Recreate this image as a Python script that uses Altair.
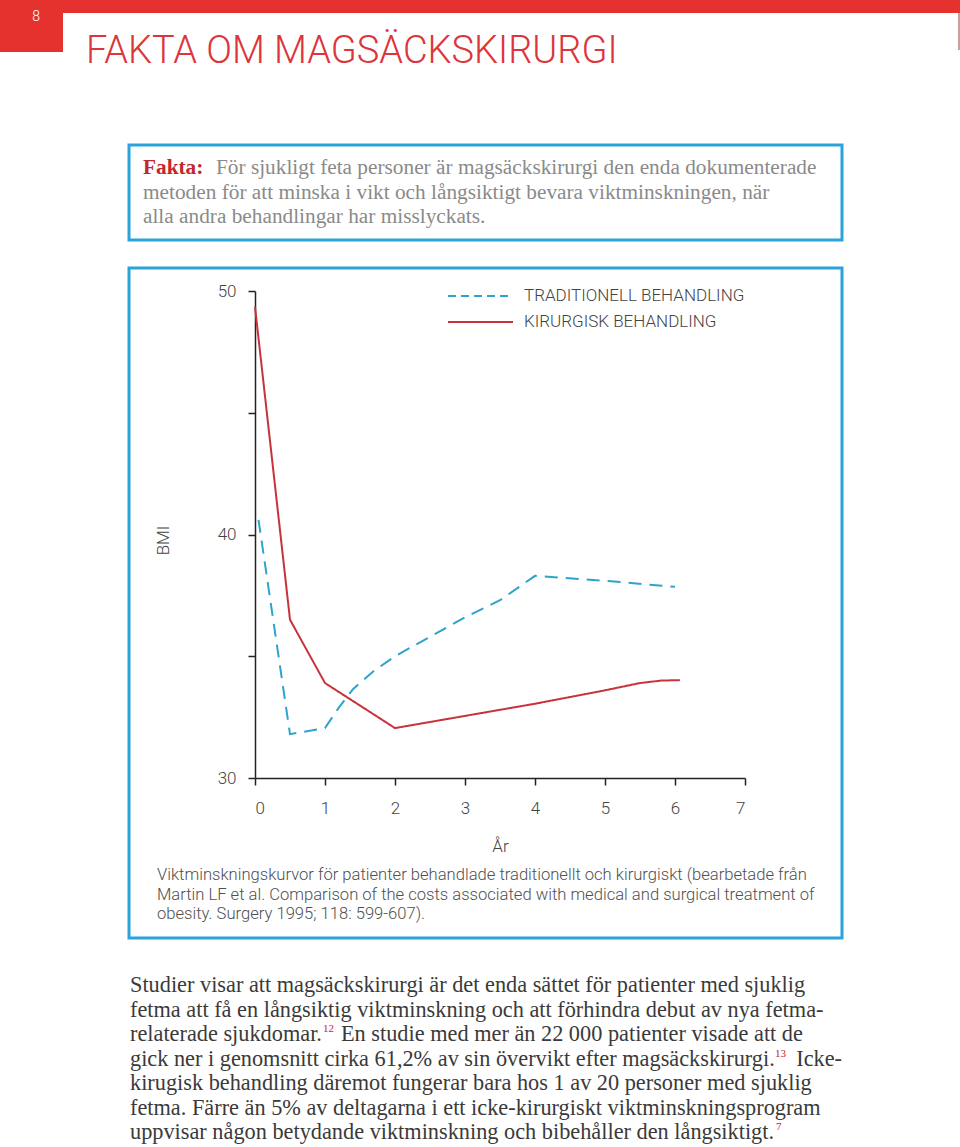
import altair as alt
import pandas as pd

# ---------------- data ----------------
trad_year = [0.05, 0.5, 1.0, 1.2, 1.4, 1.7, 2.0, 2.5, 3.0, 3.5, 4.0, 5.0, 6.0]
trad_bmi = [40.6, 31.8, 32.05, 32.9, 33.65, 34.4, 35.0, 35.8, 36.6, 37.3, 38.3, 38.1, 37.85]
surg_year = [0.0, 0.5, 1.0, 2.0, 3.0, 4.0, 5.0, 5.5, 5.8, 6.07]
surg_bmi = [49.35, 36.5, 33.9, 32.05, 32.55, 33.05, 33.6, 33.9, 34.0, 34.02]
series_names = ["TRADITIONELL BEHANDLING", "KIRURGISK BEHANDLING"]
series_colors = ["#2ea3cc", "#c8323a"]
x_ticks = [0, 1, 2, 3, 4, 5, 6, 7]
y_ticks = [30, 35, 40, 45, 50]

page_number = "8"
page_title = "FAKTA OM MAGSÄCKSKIRURGI"
fact_lead = "Fakta:"
fact_line1 = "För sjukligt feta personer är magsäckskirurgi den enda dokumenterade"
fact_rest = ["metoden för att minska i vikt och långsiktigt bevara viktminskningen, när",
             "alla andra behandlingar har misslyckats."]
caption = ["Viktminskningskurvor för patienter behandlade traditionellt och kirurgiskt (bearbetade från",
           "Martin LF et al. Comparison of the costs associated with medical and surgical treatment of",
           "obesity. Surgery 1995; 118: 599-607)."]
para_top = ["Studier visar att magsäckskirurgi är det enda sättet för patienter med sjuklig",
            "fetma att få en långsiktig viktminskning och att förhindra debut av nya fetma-"]
para_l3a = "relaterade sjukdomar."
para_l3b = "En studie med mer än 22 000 patienter visade att de"
para_l4a = "gick ner i genomsnitt cirka 61,2% av sin övervikt efter magsäckskirurgi."
para_l4b = "Icke-"
para_bottom = ["kirugisk behandling däremot fungerar bara hos 1 av 20 personer med sjuklig",
               "fetma. Färre än 5% av deltagarna i ett icke-kirurgiskt viktminskningsprogram",
               "uppvisar någon betydande viktminskning och bibehåller den långsiktigt."]
sup_refs = ["12", "13", "7"]

df = pd.DataFrame({
    "year": trad_year + surg_year,
    "bmi": trad_bmi + surg_bmi,
    "series": [series_names[0]] * len(trad_year) + [series_names[1]] * len(surg_year),
})
one = pd.DataFrame({"k": [0]})

SANS = "Roboto"
SERIF = "Liberation Serif"
RED = "#e5322f"
BLUE_BOX = "#2aa4d8"

# ---------------- main lines ----------------
lines = alt.Chart(df).mark_line(strokeWidth=2).encode(
    x=alt.X("year:Q", scale=alt.Scale(domain=[0, 7], nice=False, zero=False),
            axis=alt.Axis(values=x_ticks, title="År", titleX=245, titleY=68,
                          titleBaseline="middle", labelPadding=15, tickSize=7)),
    y=alt.Y("bmi:Q", scale=alt.Scale(domain=[30, 50], nice=False, zero=False),
            axis=alt.Axis(values=y_ticks, title="BMI", titleX=-92, titleY=249,
                          titleBaseline="middle", titleAlign="center",
                          labelExpr="datum.value % 10 == 0 ? datum.label : ''",
                          labelPadding=12, tickSize=7)),
    color=alt.Color("series:N", scale=alt.Scale(domain=series_names, range=series_colors),
                    legend=None),
    strokeDash=alt.StrokeDash("series:N", scale=alt.Scale(domain=series_names, range=[[13, 8], [1, 0]]),
                              legend=None),
    order=alt.Order("year:Q"),
)

# ---------------- legend (drawn by hand) ----------------
def legend_entry(i, y, dash):
    sw = alt.Chart(pd.DataFrame({"s": [series_names[i]]})).mark_rule(
        color=series_colors[i], strokeWidth=2, strokeDash=dash).encode(
        x=alt.value(193), x2=alt.value(258), y=alt.value(y))
    lb = alt.Chart(pd.DataFrame({"s": [series_names[i]]})).mark_text(
        align="left", baseline="middle", font=SANS, fontSize=17, fontWeight=300,
        color="#444").encode(x=alt.value(269), y=alt.value(y), text="s:N")
    return sw + lb

leg1 = legend_entry(0, 5, [8, 5])
leg2 = legend_entry(1, 31, [1, 0])

# ---------------- page decorations ----------------
def rect(x, x2, y, y2, **kw):
    return alt.Chart(one).mark_rect(**kw).encode(
        x=alt.value(x), x2=alt.value(x2), y=alt.value(y), y2=alt.value(y2))

top_bar = rect(-255, 705, -291, -278, color=RED)
side_block = rect(-255, -192, -291, -239, color=RED)
right_line = rect(703, 705, -278, -241, color="#c9a0a0")
fact_box = rect(-126, 587, -146, -51, fillOpacity=0, stroke=BLUE_BOX, strokeWidth=3)
chart_box = rect(-126, 587, -23, 647, fillOpacity=0, stroke=BLUE_BOX, strokeWidth=3)

def text(content, x, y, **kw):
    opts = dict(align="left", baseline="alphabetic")
    opts.update(kw)
    return alt.Chart(one).mark_text(text=content, **opts).encode(
        x=alt.value(x), y=alt.value(y))

num = text(page_number, -219, -274, font=SANS, fontSize=14, fontWeight=300, color="white",
           align="center", baseline="middle")
title = text(page_title, -169, -228, font=SANS, fontSize=38, fontWeight=300, color="#dc353c")

FS_F = 21.3
fact_a = text(fact_lead, -112, -117, font=SERIF, fontSize=FS_F, fontWeight="bold", color="#c4262d")
fact_b = text(fact_line1, -39, -117, font=SERIF, fontSize=FS_F, color="#8a8a8a")
fact_c = text(fact_rest, -112, -92.5, font=SERIF, fontSize=FS_F, color="#8a8a8a", lineHeight=24.5)

cap = text(caption, -98, 589, font=SANS, fontSize=16.6, fontWeight=300, color="#505050", lineHeight=19.5)

PC = "#3a3a3a"
LH = 24.5
FS_P = 22.3
y1 = 701
p_top = text(para_top, -125, y1, font=SERIF, fontSize=FS_P, color=PC, lineHeight=LH)
p_3a = text(para_l3a, -125, y1 + 2 * LH, font=SERIF, fontSize=FS_P, color=PC)
p_3b = text(para_l3b, 86, y1 + 2 * LH, font=SERIF, fontSize=FS_P, color=PC)
p_4a = text(para_l4a, -125, y1 + 3 * LH, font=SERIF, fontSize=FS_P, color=PC)
p_4b = text(para_l4b, 587, y1 + 3 * LH, font=SERIF, fontSize=FS_P, color=PC, align="right")
p_bot = text(para_bottom, -125, y1 + 4 * LH, font=SERIF, fontSize=FS_P, color=PC, lineHeight=LH)
s1 = text(sup_refs[0], 68, y1 + 2 * LH - 9, font=SERIF, fontSize=11, color="#c4262d")
s2 = text(sup_refs[1], 520, y1 + 3 * LH - 9, font=SERIF, fontSize=11, color="#c4262d")
s3 = text(sup_refs[2], 521, y1 + 6 * LH - 9, font=SERIF, fontSize=11, color="#c4262d")

chart = alt.layer(
    top_bar, side_block, right_line, fact_box, chart_box, num, title,
    fact_a, fact_b, fact_c, cap, p_top, p_3a, p_3b, p_4a, p_4b, p_bot, s1, s2, s3,
    leg1, leg2, lines,
).properties(
    width=490, height=487,
    background="white",
    autosize=alt.AutoSizeParams(type="none"),
    padding={"left": 255, "top": 291, "right": 215, "bottom": 369},
).configure_view(stroke=None).configure_axis(
    grid=False, domainColor="#222", domainWidth=1.5, tickColor="#222", tickWidth=1.5,
    labelFont=SANS, labelFontSize=17, labelFontWeight=300, labelColor="#444",
    titleFont=SANS, titleFontSize=17, titleFontWeight=300, titleColor="#444",
)

chart.save("out.html", embed_options={"renderer": "svg", "actions": False})
